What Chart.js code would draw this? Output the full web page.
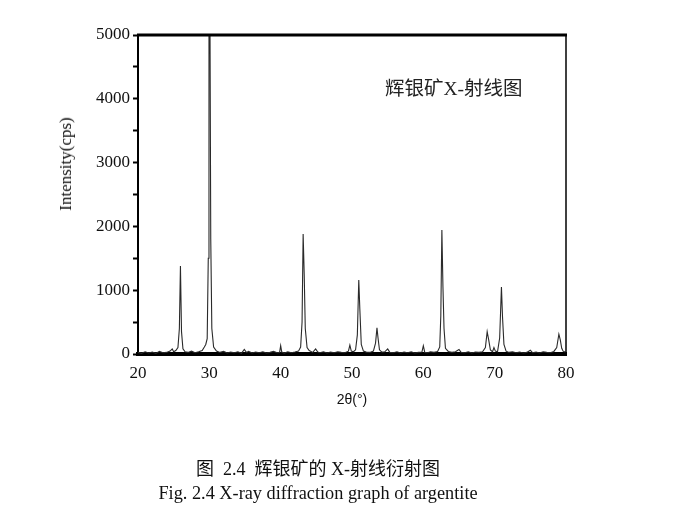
<!DOCTYPE html>
<html>
<head>
<meta charset="utf-8">
<script src="https://cdn.jsdelivr.net/npm/chart.js@4/dist/chart.umd.min.js"></script>
<style>
  html, body { margin: 0; padding: 0; background: #fff; }
  body { width: 684px; height: 519px; position: relative; overflow: hidden; }
  #xrd { position: absolute; left: 0; top: 0; }
  .txt { position: absolute; white-space: nowrap; color: #111; }
  #ytitle { left: 66px; top: 164px; transform: translate(-50%, -50%) rotate(-90deg);
            font: 17px "Liberation Serif", "Times New Roman", serif; }
  #inner { left: 385px; top: 72px; font: 19.5px "Liberation Serif", "Noto Sans CJK SC", serif; color: #222; }
  #cap1 { left: 318px; top: 454px; transform: translateX(-50%);
          font: 18px "Liberation Serif", "Noto Sans CJK SC", serif; }
  #cap2 { left: 318px; top: 483px; transform: translateX(-50%);
          font: 18.3px "Liberation Serif", "Times New Roman", serif; }
</style>
</head>
<body>
<canvas id="xrd" width="684" height="519"></canvas>
<div class="txt" id="ytitle">Intensity(cps)</div>
<div class="txt" id="inner">辉银矿X-射线图</div>
<div class="txt" id="cap1">图&nbsp; 2.4&nbsp; 辉银矿的 X-射线衍射图</div>
<div class="txt" id="cap2">Fig. 2.4 X-ray diffraction graph of argentite</div>
<script>
"use strict";

// 2θ (°) und Intensität (cps)
const twoTheta = [
  20.0, 20.5, 21.0, 21.5, 22.0, 22.5, 23.0, 23.5, 24.0, 24.5, 24.8, 25.0, 25.3, 25.6, 25.8, 25.95, 26.1, 26.3, 26.6,
  27.0, 27.5, 28.0, 28.5, 29.0, 29.3, 29.5, 29.7, 29.85, 29.95, 30.05, 30.2, 30.35, 30.6,
  31.0, 31.5, 32.0, 32.5, 33.0, 33.5, 34.0, 34.5, 34.9, 35.2, 35.5, 36.0, 36.5, 37.0, 37.5, 38.0, 38.5, 39.0, 39.5,
  39.85, 40.0, 40.15, 40.5, 41.0, 41.5, 42.0, 42.5, 42.8, 43.0, 43.15, 43.3, 43.45, 43.7, 44.0, 44.5, 44.9, 45.2,
  45.5, 46.0, 46.5, 47.0, 47.5, 48.0, 48.5, 49.0, 49.5, 49.7, 49.9, 50.2, 50.5, 50.75, 50.95, 51.1, 51.3, 51.6,
  52.0, 52.5, 53.0, 53.3, 53.5, 53.65, 53.85, 54.2, 54.6, 55.0, 55.3, 55.8, 56.3, 56.8, 57.3, 57.8, 58.3, 58.8,
  59.3, 59.8, 60.0, 60.2, 60.6, 61.0, 61.5, 62.0, 62.3, 62.45, 62.6, 62.75, 62.9, 63.1, 63.5, 64.0, 64.5, 65.0,
  65.3, 65.8, 66.3, 66.8, 67.3, 67.8, 68.3, 68.7, 68.95, 69.15, 69.4, 69.7, 69.9, 70.1, 70.4, 70.7, 70.95, 71.1,
  71.3, 71.6, 72.0, 72.5, 73.0, 73.5, 74.0, 74.5, 75.0, 75.3, 75.8, 76.3, 76.8, 77.3, 77.8, 78.3, 78.7, 79.0,
  79.2, 79.4, 79.6, 80.0
];
const intensity = [
  25, 10, 35, 15, 30, 10, 40, 20, 25, 45, 80, 35, 55, 100, 400, 1380, 350, 80, 35,
  25, 45, 20, 35, 55, 110, 150, 240, 1500, 5400, 6500, 1800, 400, 110,
  45, 25, 40, 15, 30, 20, 35, 10, 70, 25, 40, 15, 30, 20, 35, 15, 25, 40, 20,
  25, 130, 30, 15, 35, 20, 30, 45, 110, 500, 1880, 1250, 400, 100, 55, 25, 80, 30,
  20, 35, 15, 30, 20, 35, 25, 20, 45, 140, 45, 35, 65, 300, 1160, 700, 150, 45,
  30, 25, 45, 170, 410, 250, 65, 30, 35, 80, 25, 20, 35, 15, 30, 20, 35, 15,
  25, 30, 130, 25, 20, 35, 25, 40, 110, 600, 1945, 1050, 400, 90, 40, 25, 35, 70,
  25, 20, 35, 15, 30, 25, 35, 100, 350, 230, 65, 35, 100, 45, 35, 250, 1050, 580,
  150, 45, 25, 35, 20, 30, 15, 25, 60, 20, 30, 15, 35, 25, 20, 40, 100, 310,
  220, 90, 45, 25
];

const xTicks = [20, 30, 40, 50, 60, 70, 80];
const yMax = 5000;

// Rahmen oben und rechts
const framePlugin = {
  id: "frame",
  afterDatasetsDraw(chart) {
    const { ctx, chartArea: a } = chart;
    ctx.save();
    ctx.strokeStyle = "#000";
    ctx.lineWidth = 3;
    ctx.beginPath();
    ctx.moveTo(a.left - 1, a.top);
    ctx.lineTo(a.right + 1, a.top);
    ctx.stroke();
    ctx.lineWidth = 1.5;
    ctx.beginPath();
    ctx.moveTo(a.right, a.top);
    ctx.lineTo(a.right, a.bottom);
    ctx.stroke();
    ctx.restore();
  },
};

const serif = "'Liberation Serif', 'Times New Roman', serif";

new Chart(document.getElementById("xrd"), {
  type: "line",
  data: {
    datasets: [{
      data: twoTheta.map((x, i) => ({ x, y: intensity[i] })),
      borderColor: "#2a2a2a",
      borderWidth: 1.1,
      pointRadius: 0,
      tension: 0,
      fill: false,
    }],
  },
  options: {
    responsive: false,
    animation: false,
    layout: { padding: { left: 0, right: 118, top: 35, bottom: 110 } },
    plugins: { legend: { display: false }, tooltip: { enabled: false } },
    scales: {
      x: {
        type: "linear",
        min: xTicks[0],
        max: xTicks[xTicks.length - 1],
        afterBuildTicks: (s) => { s.ticks = xTicks.map((v) => ({ value: v })); },
        afterFit: (s) => { s.height = 55; },
        grid: { display: false },
        border: { display: true, color: "#000", width: 4 },
        ticks: { color: "#111", padding: 1, font: { family: serif, size: 17 }, maxRotation: 0 },
        title: {
          display: true,
          text: "2θ(°)",
          color: "#111",
          padding: { top: 0, bottom: 0 },
          font: { family: "'Liberation Sans', Arial, sans-serif", size: 14 },
        },
      },
      y: {
        min: 0,
        max: yMax,
        afterFit: (s) => { s.width = 138; },
        grid: {
          drawOnChartArea: false,
          drawTicks: true,
          tickLength: 5,
          tickColor: "#000",
          tickWidth: 2,
        },
        border: { display: true, color: "#000", width: 2 },
        ticks: {
          stepSize: 500,
          autoSkip: false,
          padding: 3,
          color: "#111",
          font: { family: serif, size: 17 },
          callback: (v) => (v % 1000 === 0 ? String(v) : ""),
        },
      },
    },
  },
  plugins: [framePlugin],
});
</script>
</body>
</html>
